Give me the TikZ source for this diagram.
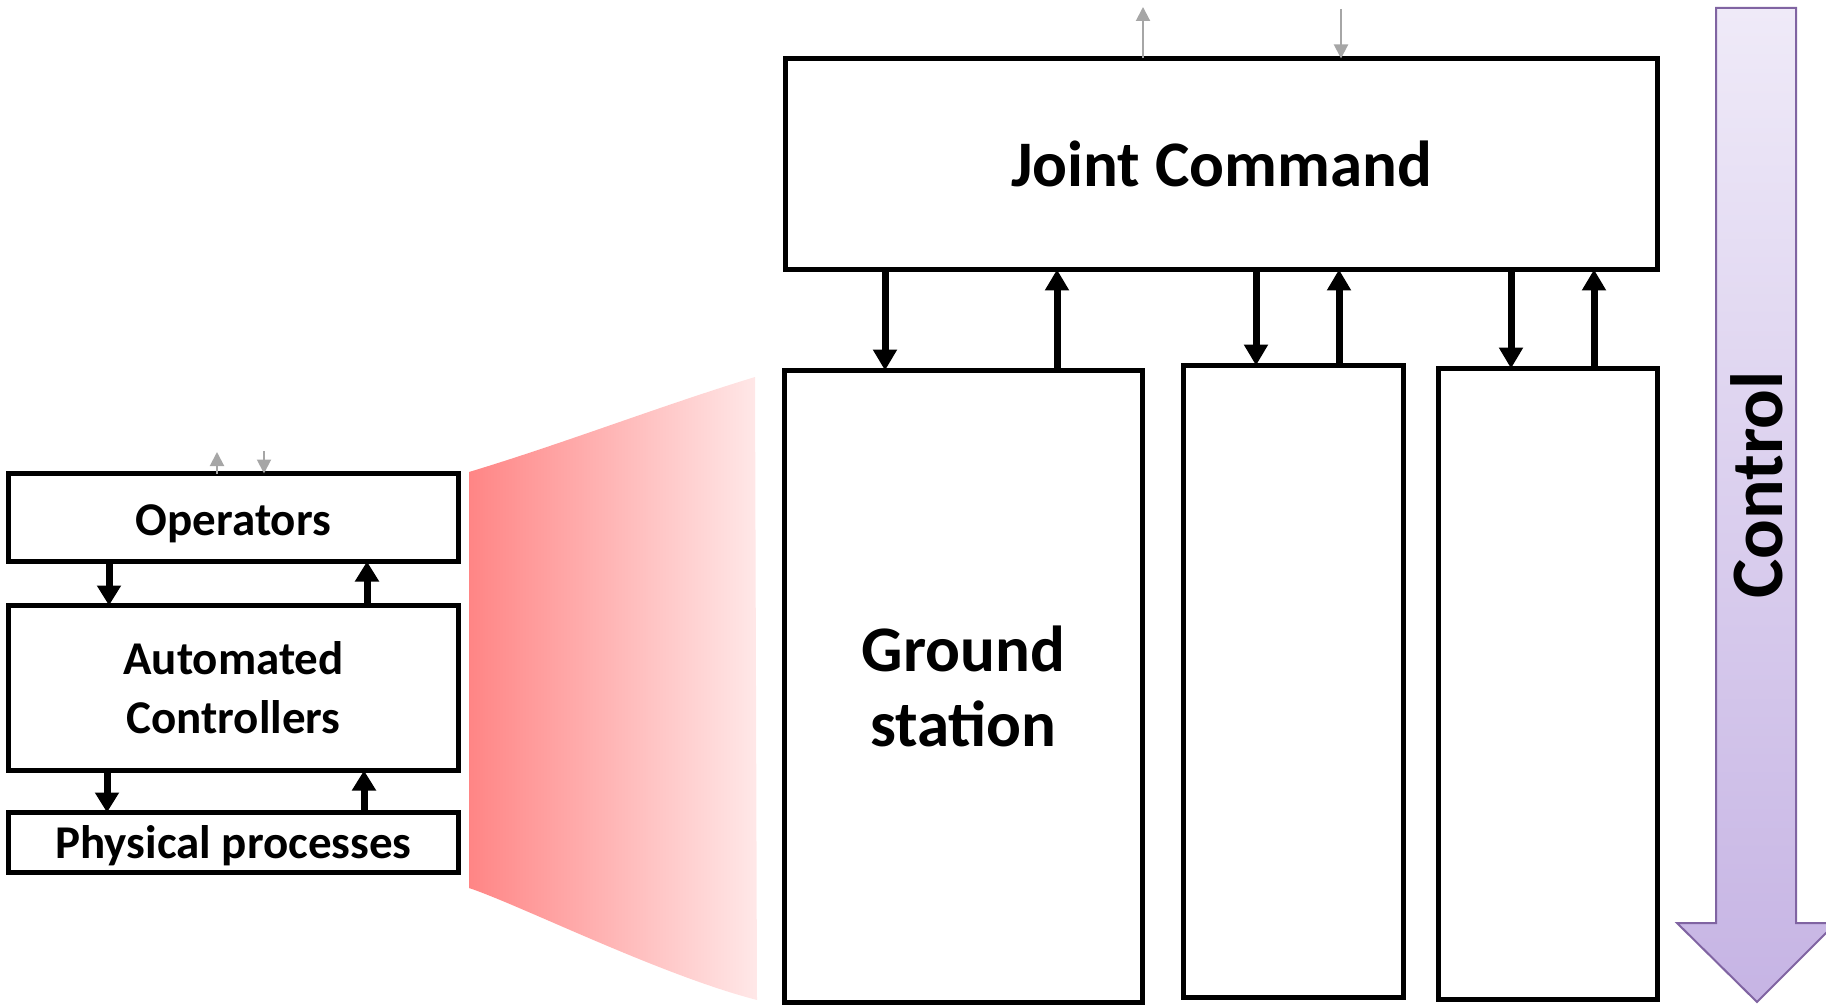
\documentclass[tikz,border=0pt]{standalone}
\usepackage{fontspec}
\setmainfont{Carlito}
\usetikzlibrary{arrows.meta,calc}
\definecolor{ctrlborder}{HTML}{8064A2}
\definecolor{ctrltop}{HTML}{EFEAF8}
\definecolor{ctrlbot}{HTML}{C6B4E4}
\definecolor{fanleft}{HTML}{FF8585}
\definecolor{fanright}{HTML}{FFE8E8}
\definecolor{arrgray}{HTML}{A6A6A6}
\begin{document}
\begin{tikzpicture}[x=1pt,y=-1pt,
  box/.style={draw=black,line width=5pt,rectangle,inner sep=0pt,outer sep=0pt,align=center,font=\bfseries},
  bigarr/.style={line width=7pt,-{Triangle[width=23pt,length=21pt]}},
  smallarr/.style={line width=7pt,-{Triangle[width=23pt,length=20pt]}},
  grayarr/.style={draw=arrgray,line width=2pt,-{Triangle[width=14pt,length=14pt]}}]
\useasboundingbox (0,0) rectangle (1826,1008);
% fan
\shade[left color=fanleft,right color=fanright]
  (469,472) .. controls (565,443) and (660,406) .. (755,377)
  -- (757,1000) .. controls (660,975) and (520,905) .. (469,888) -- cycle;
% control arrow
\shade[top color=ctrltop,bottom color=ctrlbot,draw=ctrlborder,line width=2pt]
  (1716,8) -- (1796,8) -- (1796,923) -- (1836,923) -- (1757,1002) -- (1677,923) -- (1716,923) -- cycle;
\node[font=\bfseries\fontsize{74}{80}\selectfont,rotate=90] (ctrl) at (1757,485) {Control};
% right boxes
\node[box,minimum width=872pt,minimum height=211pt,font=\bfseries\fontsize{65}{72}\selectfont] (jc) at (1221.5,164) {Joint Command};
\node[box,minimum width=358pt,minimum height=632pt,font=\bfseries\fontsize{65}{75}\selectfont] (gs) at (963.5,686.5) {Ground\\station};
\node[box,minimum width=220pt,minimum height=632pt] (b2) at (1293.5,681.5) {};
\node[box,minimum width=219pt,minimum height=631pt] (b3) at (1548,684) {};
% left boxes
\node[box,minimum width=450pt,minimum height=88pt] (op) at (233.5,517.5) {};
\node[font=\bfseries\fontsize{47}{59}\selectfont] (optext) at (233.5,524) {Operators};
\node[box,minimum width=450pt,minimum height=165pt,font=\bfseries\fontsize{47}{59}\selectfont] (ac) at (233.5,688) {Automated\\Controllers};
\node[box,minimum width=450pt,minimum height=60pt] (pp) at (233.5,842.5) {};
\node[font=\bfseries\fontsize{47}{50}\selectfont] (pptext) at (233.5,846) {Physical processes};
% arrows right
\draw[bigarr] (885,0 |- jc.south) -- (885,0 |- gs.north);
\draw[bigarr] (1057,0 |- gs.north) -- (1057,0 |- jc.south);
\draw[bigarr] (1256,0 |- jc.south) -- (1256,0 |- b2.north);
\draw[bigarr] (1339,0 |- b2.north) -- (1339,0 |- jc.south);
\draw[bigarr] (1511,0 |- jc.south) -- (1511,0 |- b3.north);
\draw[bigarr] (1594,0 |- b3.north) -- (1594,0 |- jc.south);
% arrows left
\draw[smallarr] (109,0 |- op.south) -- (109,0 |- ac.north);
\draw[smallarr] (367,0 |- ac.north) -- (367,0 |- op.south);
\draw[smallarr] (107,0 |- ac.south) -- (107,0 |- pp.north);
\draw[smallarr] (364,0 |- pp.north) -- (364,0 |- ac.south);
% gray arrows
\coordinate (g1) at (1143,7);
\coordinate (g2) at (1341,9);
\coordinate (g3) at (217,452);
\coordinate (g4) at (264,451);
\draw[grayarr] (1143,0 |- jc.north) -- (g1);
\draw[grayarr] (g2) -- (1341,0 |- jc.north);
\draw[grayarr] (217,0 |- op.north) -- (g3);
\draw[grayarr] (g4) -- (264,0 |- op.north);
\end{tikzpicture}
\end{document}
